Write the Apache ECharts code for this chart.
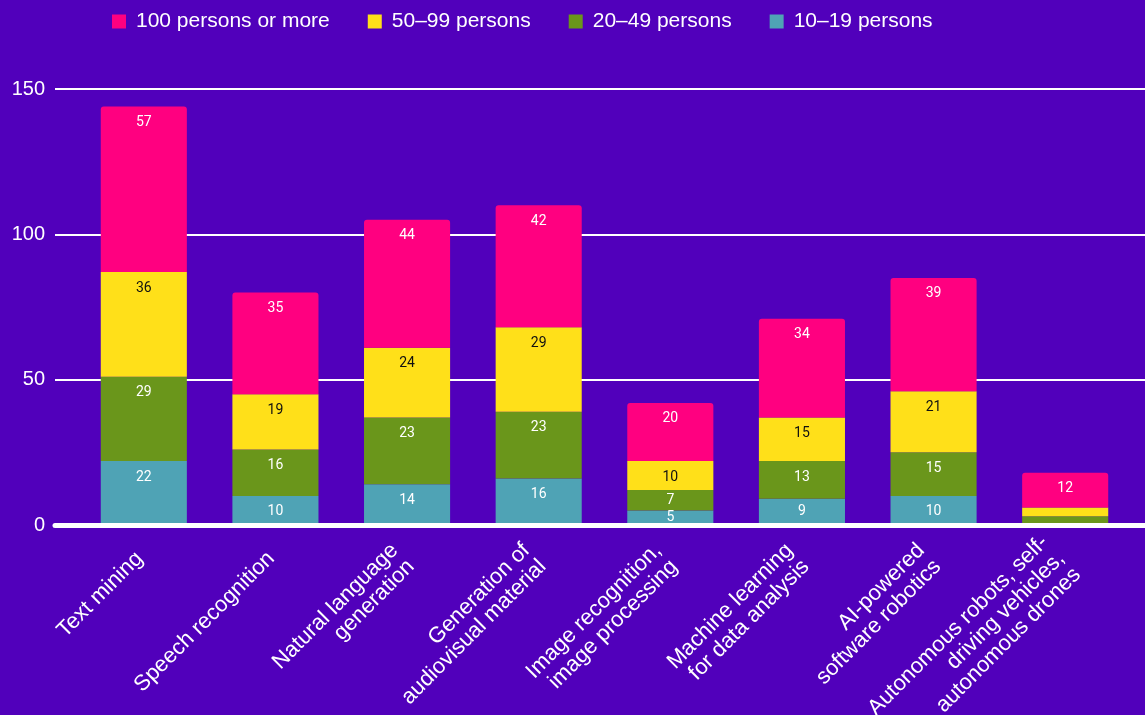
<!DOCTYPE html>
<html>
<head>
<meta charset="utf-8">
<script src="https://cdn.jsdelivr.net/npm/echarts@6/dist/echarts.min.js"></script>
<style>
html,body{margin:0;padding:0;background:#5100BB;}
#chart{width:1145px;height:715px;}
</style>
</head>
<body>
<div id="chart"></div>
<script>
const categories = [
  "Text mining",
  "Speech recognition",
  "Natural language\ngeneration",
  "Generation of\naudiovisual material",
  "Image recognition,\nimage processing",
  "Machine learning\nfor data analysis",
  "AI-powered\nsoftware robotics",
  "Autonomous robots, self-\ndriving vehicles,\nautonomous drones"
];
const s10to19 = [22, 10, 14, 16, 5, 9, 10, 0];
const s20to49 = [29, 16, 23, 23, 7, 13, 15, 3];
const s50to99 = [36, 19, 24, 29, 10, 15, 21, 3];
const s100plus = [57, 35, 44, 42, 20, 34, 39, 12];
const seriesNames = ["10–19 persons", "20–49 persons", "50–99 persons", "100 persons or more"];
const legendOrder = ["100 persons or more", "50–99 persons", "20–49 persons", "10–19 persons"];
const yTicks = { min: 0, max: 150, interval: 50 };

const colors = ["#4FA3B5", "#6A961B", "#FFE019", "#FF0080"];
const labelColors = ["#ffffff", "#ffffff", "#111111", "#ffffff"];
const seriesData = [s10to19, s20to49, s50to99, s100plus];

const chart = echarts.init(document.getElementById('chart'), null, {renderer: 'canvas'});
const series = seriesData.map((d, i) => ({
  name: seriesNames[i],
  type: 'bar',
  stack: 'total',
  xAxisIndex: 0,
  yAxisIndex: 0,
  data: d.map(v => ({ value: v, label: { position: v < 10 ? 'inside' : 'insideTop' } })),
  barCategoryGap: '34.6%',
  itemStyle: { color: colors[i], borderRadius: i === 3 ? [3, 3, 0, 0] : 0 },
  label: {
    show: true,
    position: 'insideTop',
    distance: 9,
    color: labelColors[i],
    fontFamily: 'Roboto',
    fontSize: 14,
    formatter: p => (p.value >= 4 ? String(p.value) : '')
  },
  emphasis: { disabled: true }
}));

chart.setOption({
  backgroundColor: '#5100BB',
  animation: false,
  color: colors,
  legend: {
    data: legendOrder,
    left: 107,
    top: 6,
    itemWidth: 14,
    itemHeight: 14,
    itemGap: 38,
    icon: 'rect',
    textStyle: { color: '#ffffff', fontFamily: 'Liberation Sans, Arial', fontSize: 21, padding: [0, 0, 0, 5] }
  },
  grid: [
    { left: 78, right: 14, top: 89, bottom: 190, containLabel: false, outerBoundsMode: 'none' },
    { left: 55, right: 0, top: 89, bottom: 190, containLabel: false, outerBoundsMode: 'none' }
  ],
  xAxis: [
    {
      type: 'category', gridIndex: 0, data: categories,
      axisLine: { show: false }, axisTick: { show: false },
      axisLabel: {
        interval: 0, rotate: 45, margin: 26, padding: [0, 6, 0, 0],
        color: '#ffffff', fontFamily: 'Liberation Sans, Arial', fontSize: 22, lineHeight: 23
      }
    },
    {
      type: 'category', gridIndex: 1, data: [''], z: 10,
      axisLine: { show: true, lineStyle: { color: '#ffffff', width: 5 } },
      axisTick: { show: false }, axisLabel: { show: false }
    }
  ],
  yAxis: [
    {
      type: 'value', gridIndex: 0, min: yTicks.min, max: yTicks.max, interval: yTicks.interval,
      show: false, splitLine: { show: false }
    },
    {
      type: 'value', gridIndex: 1, min: yTicks.min, max: yTicks.max, interval: yTicks.interval,
      axisLine: { show: false }, axisTick: { show: false },
      axisLabel: { color: '#ffffff', fontFamily: 'Liberation Sans, Arial', fontSize: 20, margin: 10 },
      splitLine: { show: true, lineStyle: { color: '#ffffff', width: 2 } }
    }
  ],
  series: series
});
</script>
</body>
</html>
